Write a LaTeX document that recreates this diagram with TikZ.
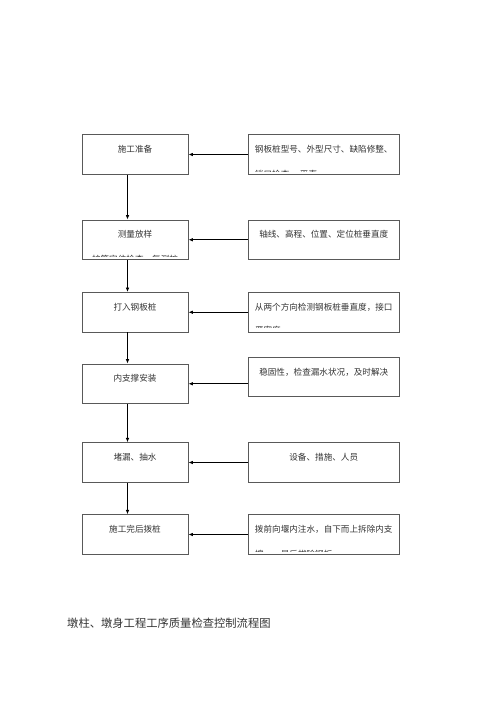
\documentclass[tikz,border=0pt]{standalone}
\usepackage{fontspec}
\setmainfont{Noto Sans CJK SC}
\usetikzlibrary{arrows.meta}
\begin{document}
\begin{tikzpicture}[x=1pt,y=1pt,
  lbox/.style={draw=black!65,line width=0.9pt,minimum width=106pt,minimum height=39.5pt,inner sep=0pt},
  rbox/.style={draw=black!65,line width=0.9pt,minimum width=151pt,minimum height=39.5pt,inner sep=0pt},
  txt/.style={inner sep=0pt,text=black!80,font=\fontsize{8.6pt}{10pt}\selectfont},
  conn/.style={draw=black,line width=0.8pt,-{Latex[length=4.5pt,width=3.6pt]}}]
\useasboundingbox (0,0) rectangle (500,-707);
% left boxes
\node[lbox] (l1) at (135,-154.5) {};
\node[lbox] (l2) at (135,-239.75) {};
\node[lbox] (l3) at (135,-312.25) {};
\node[lbox] (l4) at (135,-383.75) {};
\node[lbox] (l5) at (135,-462.5) {};
\node[lbox] (l6) at (135,-534.5) {};
% right boxes
\node[rbox] (r1) at (323.75,-154.5) {};
\node[rbox] (r2) at (323.75,-239.75) {};
\node[rbox] (r3) at (323.75,-312.25) {};
\node[rbox] (r4) at (323.75,-377) {};
\node[rbox] (r5) at (323.75,-462.5) {};
\node[rbox] (r6) at (323.75,-534.5) {};
% left texts
\node[txt] (tl1) at ([yshift=-15pt]l1.north) {施工准备};
\node[txt] (tl2) at ([yshift=-15pt]l2.north) {测量放样};
\node[txt] (tl3) at ([yshift=-15pt]l3.north) {打入钢板桩};
\node[txt] (tl4) at ([yshift=-15pt]l4.north) {内支撑安装};
\node[txt] (tl5) at ([yshift=-15pt]l5.north) {堵漏、抽水};
\node[txt] (tl6) at ([yshift=-15pt]l6.north) {施工完后拨桩};
% right texts
\node[txt] (tr1) at ([yshift=-15pt]r1.north) {钢板桩型号、外型尺寸、缺陷修整、};
\node[txt] (tr2) at ([yshift=-15pt]r2.north) {轴线、高程、位置、定位桩垂直度};
\node[txt] (tr3) at ([yshift=-15pt]r3.north) {从两个方向检测钢板桩垂直度，接口};
\node[txt] (tr4) at ([yshift=-16pt]r4.north) {稳固性，检查漏水状况，及时解决};
\node[txt] (tr5) at ([yshift=-15pt]r5.north) {设备、措施、人员};
\node[txt] (tr6) at ([yshift=-15pt]r6.north) {拨前向堰内注水，自下而上拆除内支};
% clipped second lines
\begin{scope}
\clip ([yshift=3pt]r1.south west) rectangle (r1.north east);
\node[txt,anchor=west] (sr1) at ([xshift=7pt,yshift=0.3pt]r1.south west) {锁口检查、 平直};
\end{scope}
\begin{scope}
\clip ([yshift=3pt]l2.south west) rectangle (l2.north east);
\node[txt] (sl2) at ([yshift=0.3pt]l2.south) {护筒定位检查　复测桩};
\end{scope}
\begin{scope}
\clip ([yshift=4.5pt]r3.south west) rectangle (r3.north east);
\node[txt,anchor=west] (sr3) at ([xshift=7pt,yshift=1.8pt]r3.south west) {严密度};
\end{scope}
\begin{scope}
\clip ([yshift=3pt]r6.south west) rectangle (r6.north east);
\node[txt,anchor=west] (sr6) at ([xshift=7pt,yshift=0.3pt]r6.south west) {撑，　最后拔除钢板};
\end{scope}
% horizontal connectors
\foreach \i in {1,...,6}{
  \draw[conn] (r\i.west |- l\i.east) -- (l\i.east);
}
% vertical connectors
\foreach \i/\j in {1/2,2/3,3/4,4/5,5/6}{
  \draw[conn] ([xshift=-7.5pt]l\i.south) -- ([xshift=-7.5pt]l\j.north);
}
% title
\node[txt,anchor=west,font=\fontsize{11.3pt}{13pt}\selectfont] (title) at (67,-623) {墩柱、墩身工程工序质量检查控制流程图};
\end{tikzpicture}
\end{document}
